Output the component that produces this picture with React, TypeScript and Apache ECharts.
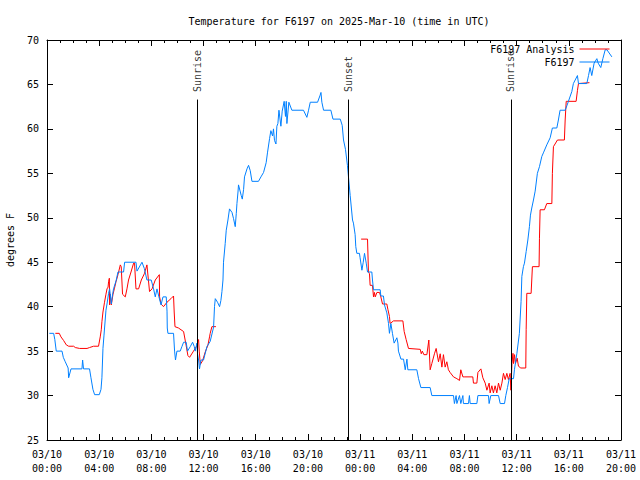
import React, { useEffect, useRef } from "react";
import * as echarts from "echarts";

// Hours since 2025-03-10 00:00 UTC
const blueHours = [
  0.18, 0.51, 0.6, 0.71, 1.15, 1.25, 1.4, 1.62, 1.66, 1.84, 2.68, 2.73, 2.8, 3.26, 3.37, 3.45, 3.52, 3.65, 4.01, 4.14,
  4.21, 4.29, 4.37, 4.52, 4.6, 4.72, 4.8, 4.93, 5.0, 5.1, 5.31, 5.44, 5.87, 5.95, 6.82, 6.9, 7.28, 7.46, 7.66, 7.99,
  8.17, 8.3, 8.43, 8.58, 8.74, 8.89, 9.14, 9.2, 9.22, 9.27, 9.7, 9.78, 9.85, 9.96, 10.21, 10.34, 10.47, 10.67, 10.77, 10.98,
  11.16, 11.29, 11.36, 11.49, 11.54, 11.62, 11.69, 11.8, 12.0, 12.26, 12.51, 12.77, 12.84, 12.9, 13.07, 13.23, 13.33, 13.41, 13.49, 13.53,
  13.66, 13.74, 13.87, 13.99, 14.18, 14.3, 14.43, 14.51, 14.56, 14.64, 14.68, 14.89, 14.97, 15.07, 15.14, 15.33, 15.45, 15.58, 15.71, 16.21,
  16.4, 16.6, 16.8, 16.9, 17.06, 17.16, 17.29, 17.36, 17.44, 17.55, 17.62, 17.7, 17.78, 17.93, 18.03, 18.18, 18.28, 18.34, 18.39, 18.54,
  18.77, 19.66, 19.92, 20.05, 20.18, 20.74, 20.94, 21.0, 21.07, 21.2, 21.76, 21.92, 22.48, 22.63, 22.73, 22.88, 23.03, 23.11, 23.24, 23.42,
  23.49, 23.62, 23.67, 23.75, 23.95, 24.0, 24.14, 24.24, 24.34, 24.47, 24.57, 24.9, 24.95, 25.03, 25.54, 25.59, 25.79, 25.87, 26.05, 26.18,
  26.25, 26.36, 26.48, 26.61, 26.82, 26.9, 26.94, 27.13, 27.33, 27.46, 27.59, 27.66, 28.35, 28.48, 28.66, 29.37, 29.5, 31.16, 31.23, 31.36,
  31.42, 31.62, 31.72, 31.88, 31.92, 32.31, 32.38, 32.44, 32.95, 33.03, 33.84, 33.89, 34.02, 34.61, 34.74, 35.07, 35.17, 35.3, 35.43, 35.76,
  35.83, 36.02, 36.21, 36.34, 36.4, 36.52, 36.6, 36.73, 36.86, 36.98, 37.06, 37.16, 37.29, 37.42, 37.59, 37.75, 37.93, 38.05, 38.31, 38.57,
  38.74, 39.08, 39.2, 39.33, 39.72, 39.85, 39.97, 40.23, 40.35, 40.66, 40.74, 41.38, 41.51, 41.63, 41.76, 41.94, 42.15, 42.25, 42.45, 42.61,
  42.79, 42.92, 43.3,
];
const blueTemps = [
  37, 37, 36.3, 35, 35, 34.3, 33.8, 33.1, 32, 33, 33, 34, 33, 33, 32, 31.3, 30.7, 30.1, 30.1, 30.7,
  32, 35.3, 36.8, 39.6, 40.3, 41.5, 42, 40.3, 41.1, 42, 43, 43.9, 43.9, 45, 45, 44, 45, 44.3, 43, 43,
  42, 41.1, 42, 41.1, 40.2, 41.1, 41.1, 39.5, 37.6, 37, 37, 35, 34, 35, 35, 35.5, 36, 36, 35, 35.5,
  36, 35.5, 35, 35.9, 34.7, 34, 33, 34, 34, 35.5, 36.1, 37.7, 40, 40.9, 40.5, 40, 40.7, 41.7, 43, 45,
  47.1, 48.6, 49.75, 51, 50.6, 49.9, 49, 50.5, 51.6, 52.9, 53.7, 52.5, 52.1, 53.2, 54.6, 55.5, 55.9, 55.3, 54.1, 54.1,
  54.6, 55.1, 56.2, 57.3, 58.9, 59.8, 59.2, 60, 58.7, 58.3, 60.3, 60.6, 62.1, 60.3, 62, 63.1, 61.4, 63.1, 60.6, 63,
  62.1, 62.1, 61.3, 62.1, 63, 63, 63.8, 64.1, 63, 62.1, 62.1, 61.1, 61.1, 60.4, 58.75, 57.7, 55.9, 54.6, 52.5, 49.75,
  49.4, 48.1, 46.75, 46, 46, 45.5, 44.1, 45, 46, 44.9, 43.9, 43.9, 43, 41.9, 41.9, 41.2, 41.2, 40.2, 39.3, 38.1,
  37, 38.1, 37, 35.9, 36.5, 35.9, 35, 34.1, 34.1, 32.9, 34.1, 32.9, 32.9, 31.9, 30.9, 30.9, 30, 30, 29.1, 30,
  29.1, 30, 29.1, 30, 29.1, 29.1, 30, 29.1, 29.1, 30, 30, 29.1, 30, 30, 29.1, 29.1, 30, 30.9, 31.9, 31.9,
  32.9, 34.75, 37, 40.6, 43.4, 44.5, 44.9, 46.2, 47.5, 49, 50.3, 51.1, 52, 53, 55, 55.75, 56.9, 57.3, 58.2, 59,
  60.1, 60.1, 61, 62.1, 62.1, 62.6, 63.1, 64.2, 65.1, 66, 65.1, 65.1, 66, 66.9, 66, 67.4, 67.9, 67.4, 66.9, 67.9,
  68.9, 68.9, 68.1,
];

const redHours = [
  0.64, 0.94, 1.07, 1.27, 1.48, 1.66, 2.04, 2.17, 2.5, 3.07, 3.26, 3.57, 3.95, 4.08, 4.16, 4.21, 4.29, 4.41, 4.52, 4.6,
  4.68, 4.72, 4.78, 4.8, 4.85, 4.93, 5.06, 5.16, 5.29, 5.44, 5.62, 5.69, 5.79, 6.0, 6.13, 6.25, 6.44, 6.64, 6.71, 6.82,
  7.02, 7.23, 7.46, 7.66, 7.86, 8.05, 8.3, 8.61, 8.63, 8.74, 8.93, 9.2, 9.5, 9.7, 9.75, 9.81, 10.08, 10.47, 10.67, 10.8,
  10.93, 11.23, 11.49, 11.62, 11.67, 11.75, 11.92, 12.13, 12.34, 12.46, 12.51, 12.64, 12.95, 18.5,
  24.08, 24.57, 24.64, 24.72, 24.77, 24.95, 25.03, 25.1, 25.16, 25.29, 25.49, 25.59, 25.72, 26.05, 26.13, 26.25, 26.3, 26.56, 27.28, 27.38,
  27.53, 27.71, 28.61, 28.69, 28.77, 28.89, 29.12, 29.27, 29.37, 29.5, 29.7, 29.83, 30.01, 30.14, 30.27, 30.39, 30.52, 30.65, 30.77, 30.9,
  31.16, 31.42, 31.62, 31.72, 31.88, 31.98, 32.64, 32.69, 32.95, 33.03, 33.26, 33.41, 33.59, 33.72, 33.89, 33.97, 34.1, 34.22, 34.35, 34.48,
  34.61, 34.74, 34.87, 34.99, 35.12, 35.25, 35.37, 35.5, 35.56, 35.64, 35.72, 35.76, 35.84, 35.91, 36.04, 36.14, 36.32, 36.7, 36.73, 36.78,
  37.11, 37.21, 37.72, 37.75, 37.8, 38.13, 38.31, 38.7, 38.74, 38.82, 39.13, 39.66, 39.72, 39.8, 40.56, 40.66, 40.74, 41.58,
];
const redTemps = [
  37, 37, 36.6, 36.2, 35.7, 35.55, 35.55, 35.4, 35.3, 35.3, 35.4, 35.55, 35.55, 36.6, 37.4, 38.3, 39.4, 40.5, 41.4, 42,
  42.2, 42.8, 43.2, 40.2, 41.4, 40.2, 41.4, 42, 42.8, 43.6, 44.7, 44.5, 41.4, 41.1, 42, 43, 43.9, 44.9, 44.9, 42,
  42, 43, 43.7, 44.7, 41.7, 42, 43, 43.6, 41.1, 40.3, 40, 40.5, 40.9, 41.2, 39.4, 37.75, 37.6, 37.2, 35.6, 34.5,
  34.3, 35, 35.6, 36.3, 35, 33.5, 33.9, 34.9, 35.7, 36.6, 37, 37.75, 37.75, null,
  47.6, 47.6, 43.9, 43.7, 42.4, 42.4, 41.1, 41.6, 41.1, 41.6, 41.6, 41.1, 40.3, 40.3, 39.7, 38.9, 38.1, 38.4, 38.4, 37.2,
  36.3, 35.3, 35.2, 34.7, 35, 34.6, 34.6, 36.25, 32.9, 33.6, 34.7, 35.3, 33.8, 34.7, 33.2, 34.6, 33.2, 33.8, 32.9, 32.6,
  32.1, 31.9, 31.7, 32.9, 32.1, 32.1, 32.1, 31.4, 31.4, 32.6, 33, 32, 31.4, 30.6, 31.4, 30.3, 31.1, 30.3, 31.1, 30.3,
  31.4, 30.6, 31.4, 32.5, 31.8, 32.5, 31.8, 32.5, 30.6, 33.6, 34.75, 33.6, 34.6, 33.6, 34.2, 33.3, 33.1, 33.1, 37.4, 41.5,
  41.5, 44.5, 44.5, 47.7, 50.9, 50.9, 51.6, 51.6, 55, 58, 58.75, 58.75, 61, 63.1, 63.1, 64.3, 65.1, 65.2,
];

const sunHours = [11.54, 23.11, 35.56];
const sunLabels = ["Sunrise", "Sunset", "Sunrise"];
const sunLineBottom = 25;
const sunLineTop = 63.3;

const yMin = 25;
const yMax = 70;
const yStep = 5;
const xMin = 0;
const xMax = 44;
const xStep = 4;

const FONT = "DejaVu Sans Mono";

const xLabel = (v: number) => {
  const day = 10 + Math.floor(v / 24);
  const hh = v % 24;
  return `03/${day}\n${String(hh).padStart(2, "0")}:00`;
};

export default function App() {
  const ref = useRef<HTMLDivElement>(null);
  useEffect(() => {
    if (!ref.current) return;
    const chart = echarts.init(ref.current, undefined, { renderer: "svg" });
    const pair = (hs: number[], ts: (number | null)[]) =>
      hs.map((h, i) => [h, ts[i] === null ? "-" : ts[i]]);
    const baseX = {
      type: "value" as const,
      min: xMin,
      max: xMax,
      interval: xStep,
      splitLine: { show: false },
      axisLine: { show: true, onZero: false, lineStyle: { color: "#000", width: 1 } },
      axisTick: { show: true, inside: true, length: 6, lineStyle: { color: "#000" } },
      minorTick: { show: true, splitNumber: 4, length: 3, lineStyle: { color: "#000" } },
    };
    const baseY = {
      type: "value" as const,
      min: yMin,
      max: yMax,
      interval: yStep,
      splitLine: { show: false },
      axisLine: { show: true, onZero: false, lineStyle: { color: "#000", width: 1 } },
      axisTick: { show: true, inside: true, length: 6, lineStyle: { color: "#000" } },
    };
    chart.setOption({
      animation: false,
      backgroundColor: "#fff",
      title: {
        text: "Temperature for F6197 on 2025-Mar-10 (time in UTC)",
        left: 334,
        top: 11,
        textAlign: "center",
        textStyle: { fontFamily: FONT, fontSize: 10, fontWeight: "normal", color: "#000" },
      },
      legend: {
        data: ["F6197 Analysis", "F6197"],
        orient: "vertical",
        right: 30,
        top: 44,
        align: "right",
        itemWidth: 30,
        itemHeight: 10,
        itemGap: 3,
        padding: 0,
        itemStyle: { opacity: 0 },
        lineStyle: { width: 1 },
        textStyle: { fontFamily: FONT, fontSize: 10, color: "#000" },
      },
      grid: { left: 47, right: 19, top: 40, bottom: 40, outerBoundsMode: "none", containLabel: false },
      xAxis: [
        {
          ...baseX,
          position: "bottom",
          axisLabel: {
            show: true,
            formatter: xLabel,
            fontFamily: FONT,
            fontSize: 10,
            color: "#000",
            lineHeight: 14,
            margin: 7,
          },
        },
        { ...baseX, position: "top", axisLabel: { show: false } },
      ],
      yAxis: [
        {
          ...baseY,
          position: "left",
          name: "degrees F",
          nameLocation: "middle",
          nameRotate: 90,
          nameGap: 32,
          nameTextStyle: { fontFamily: FONT, fontSize: 10, color: "#000" },
          axisLabel: { show: true, fontFamily: FONT, fontSize: 10, color: "#000", margin: 8 },
        },
        { ...baseY, position: "right", axisLabel: { show: false } },
      ],
      series: [
        {
          name: "F6197 Analysis",
          type: "line",
          data: pair(redHours, redTemps),
          symbol: "none",
          showSymbol: false,
          connectNulls: false,
          lineStyle: { color: "#ff0000", width: 1 },
          itemStyle: { color: "#ff0000" },
        },
        {
          name: "F6197",
          type: "line",
          data: pair(blueHours, blueTemps),
          symbol: "none",
          showSymbol: false,
          lineStyle: { color: "#0080ff", width: 1 },
          itemStyle: { color: "#0080ff" },
        },
        {
          name: "sun",
          type: "scatter",
          data: sunHours.map((h, i) => [h, sunLineTop, sunLabels[i]]),
          symbolSize: 1,
          itemStyle: { color: "transparent" },
          label: {
            show: true,
            formatter: (p: any) => p.data[2],
            position: "top",
            distance: 7,
            rotate: 90,
            align: "left",
            verticalAlign: "middle",
            fontFamily: FONT,
            fontSize: 10,
            color: "#000",
          },
          markLine: {
            silent: true,
            symbol: ["none", "none"],
            label: { show: false },
            lineStyle: { color: "#000", width: 1, type: "solid" },
            data: sunHours.map((h) => [{ coord: [h, sunLineBottom] }, { coord: [h, sunLineTop] }]),
          },
        },
      ],
    });
    return () => chart.dispose();
  }, []);
  return (
    <div
      ref={ref}
      style={{ position: "fixed", left: 0, top: 0, width: 640, height: 480, background: "#fff" }}
    />
  );
}
